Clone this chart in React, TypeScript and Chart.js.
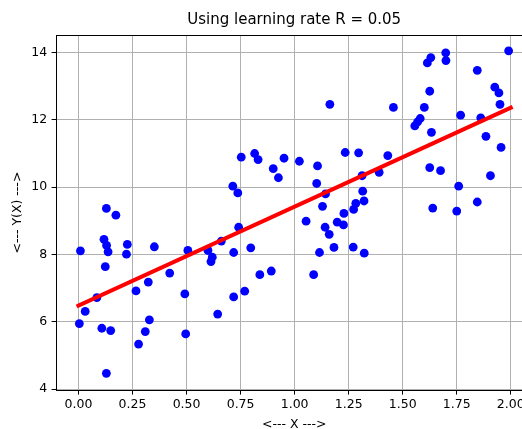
import { useEffect, useRef } from "react";
import { Chart, registerables } from "chart.js";

Chart.register(...registerables);

// Sample observations (X, Y(X))
const xValues = [
  0.004, 0.009, 0.031, 0.085, 0.108, 0.118, 0.124, 0.129, 0.13, 0.137,
  0.129, 0.149, 0.173, 0.222, 0.226, 0.266, 0.278, 0.309, 0.323, 0.328,
  0.351, 0.422, 0.492, 0.496, 0.506, 0.599, 0.619, 0.613, 0.644, 0.661,
  0.714, 0.737, 0.718, 0.718, 0.741, 0.753, 0.769, 0.797, 0.815, 0.831,
  0.839, 0.892, 0.901, 0.925, 0.951, 1.022, 1.053, 1.088, 1.102, 1.106,
  1.115, 1.129, 1.141, 1.143, 1.16, 1.163, 1.182, 1.197, 1.226, 1.228,
  1.234, 1.271, 1.273, 1.283, 1.296, 1.312, 1.315, 1.321, 1.322, 1.391,
  1.431, 1.457, 1.556, 1.569, 1.581, 1.6, 1.614, 1.63, 1.625, 1.633,
  1.625, 1.639, 1.675, 1.699, 1.7, 1.75, 1.759, 1.768, 1.845, 1.845,
  1.861, 1.885, 1.906, 1.926, 1.945, 1.95, 1.955, 1.99,
];
const yValues = [
  5.95, 8.11, 6.31, 6.72, 5.81, 8.45, 7.64, 9.37, 8.27, 8.08,
  4.47, 5.74, 9.17, 8.01, 8.3, 6.92, 5.34, 5.71, 7.18, 6.06,
  8.23, 7.45, 6.83, 5.64, 8.12, 8.12, 7.92, 7.79, 6.23, 8.4,
  10.03, 9.83, 8.06, 6.74, 8.81, 10.89, 6.91, 8.2, 11.0, 10.82,
  7.4, 7.51, 10.55, 10.28, 10.86, 10.77, 8.99, 7.4, 10.11, 10.63,
  8.06, 9.43, 8.81, 9.8, 8.6, 12.46, 8.21, 8.96, 8.88, 9.22,
  11.03, 8.22, 9.34, 9.52, 11.02, 10.34, 9.88, 9.59, 8.04, 10.44,
  10.94, 12.37, 11.82, 11.94, 12.04, 12.37, 13.69, 13.85, 12.85, 11.63,
  10.58, 9.38, 10.49, 13.99, 13.76, 9.29, 10.03, 12.14, 13.47, 9.56,
  12.06, 11.51, 10.34, 12.97, 12.8, 12.46, 11.18, 14.05,
];

// Fitted regression line end points
const fitX = [0.0, 2.0];
const fitY = [6.48, 12.36];

const xTicks = [0, 0.25, 0.5, 0.75, 1.0, 1.25, 1.5, 1.75, 2.0];
const yTicks = [4, 6, 8, 10, 12, 14];

const chartTitle = "Using learning rate R = 0.05";
const xLabel = "<--- X --->";
const yLabel = "<--- Y(X) --->";

const FONT = "'DejaVu Sans', sans-serif";

// Top spine, title and axis captions
const frameAndLabels = {
  id: "frameAndLabels",
  afterDraw(chart: any) {
    const { ctx, chartArea } = chart;
    const { left, right, top, bottom } = chartArea;
    ctx.save();
    ctx.strokeStyle = "#000";
    ctx.lineWidth = 1;
    ctx.beginPath();
    ctx.moveTo(left, Math.round(top) + 0.5);
    ctx.lineTo(right, Math.round(top) + 0.5);
    ctx.stroke();

    const cx = (left + right) / 2;
    ctx.fillStyle = "#000";
    ctx.textAlign = "center";
    ctx.textBaseline = "alphabetic";
    ctx.font = `15px ${FONT}`;
    ctx.fillText(chartTitle, cx, top - 11);

    ctx.font = `12.5px ${FONT}`;
    ctx.fillText(xLabel, cx, 427.5);

    ctx.translate(18, (top + bottom) / 2);
    ctx.rotate(-Math.PI / 2);
    ctx.textBaseline = "middle";
    ctx.fillText(yLabel, 0, 0);
    ctx.restore();
  },
};

export default function App() {
  const canvasRef = useRef<HTMLCanvasElement | null>(null);

  useEffect(() => {
    if (!canvasRef.current) return;
    const points = xValues.map((x, i) => ({ x, y: yValues[i] }));
    const line = fitX.map((x, i) => ({ x, y: fitY[i] }));

    const chart = new Chart(canvasRef.current, {
      type: "scatter",
      data: {
        datasets: [
          {
            type: "line",
            data: line,
            borderColor: "#ff0000",
            borderWidth: 4,
            borderCapStyle: "square",
            pointRadius: 0,
            fill: false,
            order: 0,
          } as any,
          {
            type: "scatter",
            data: points,
            backgroundColor: "#0000ff",
            borderColor: "#0000ff",
            borderWidth: 0,
            pointRadius: 4.4,
            order: 1,
          },
        ],
      },
      options: {
        responsive: false,
        animation: false,
        devicePixelRatio: 1,
        layout: { padding: { top: 35, left: 0, right: 12.6, bottom: 0 } },
        plugins: {
          legend: { display: false },
          tooltip: { enabled: false },
          title: { display: false },
        },
        scales: {
          x: {
            type: "linear",
            min: -0.104,
            max: 2.1,
            afterBuildTicks: (scale: any) => {
              scale.ticks = xTicks.map((value) => ({ value }));
            },
            afterFit: (scale: any) => {
              scale.height = 38.8;
            },
            grid: {
              color: "#b0b0b0",
              lineWidth: 1,
              drawTicks: true,
              tickLength: 4.4,
              tickColor: "#000",
            },
            border: { display: true, color: "#000", width: 1 },
            ticks: {
              color: "#000",
              font: { family: FONT, size: 12.5 },
              padding: 3,
              autoSkip: false,
              maxRotation: 0,
              callback: (v: any) => Number(v).toFixed(2),
            },
          },
          y: {
            type: "linear",
            min: 3.97,
            max: 14.52,
            afterBuildTicks: (scale: any) => {
              scale.ticks = yTicks.map((value) => ({ value }));
            },
            afterFit: (scale: any) => {
              scale.width = 56;
            },
            grid: {
              color: "#b0b0b0",
              lineWidth: 1,
              drawTicks: true,
              tickLength: 4.4,
              tickColor: "#000",
            },
            border: { display: true, color: "#000", width: 1 },
            ticks: {
              color: "#000",
              font: { family: FONT, size: 12.5 },
              padding: 4.4,
              autoSkip: false,
              callback: (v: any) => String(v),
            },
          },
        },
      },
      plugins: [frameAndLabels],
    });

    return () => chart.destroy();
  }, []);

  return (
    <div
      style={{
        position: "fixed",
        left: 0,
        top: 0,
        width: 522,
        height: 429,
        overflow: "hidden",
        background: "#fff",
      }}
    >
      <canvas ref={canvasRef} width={545} height={429} style={{ display: "block" }} />
    </div>
  );
}
